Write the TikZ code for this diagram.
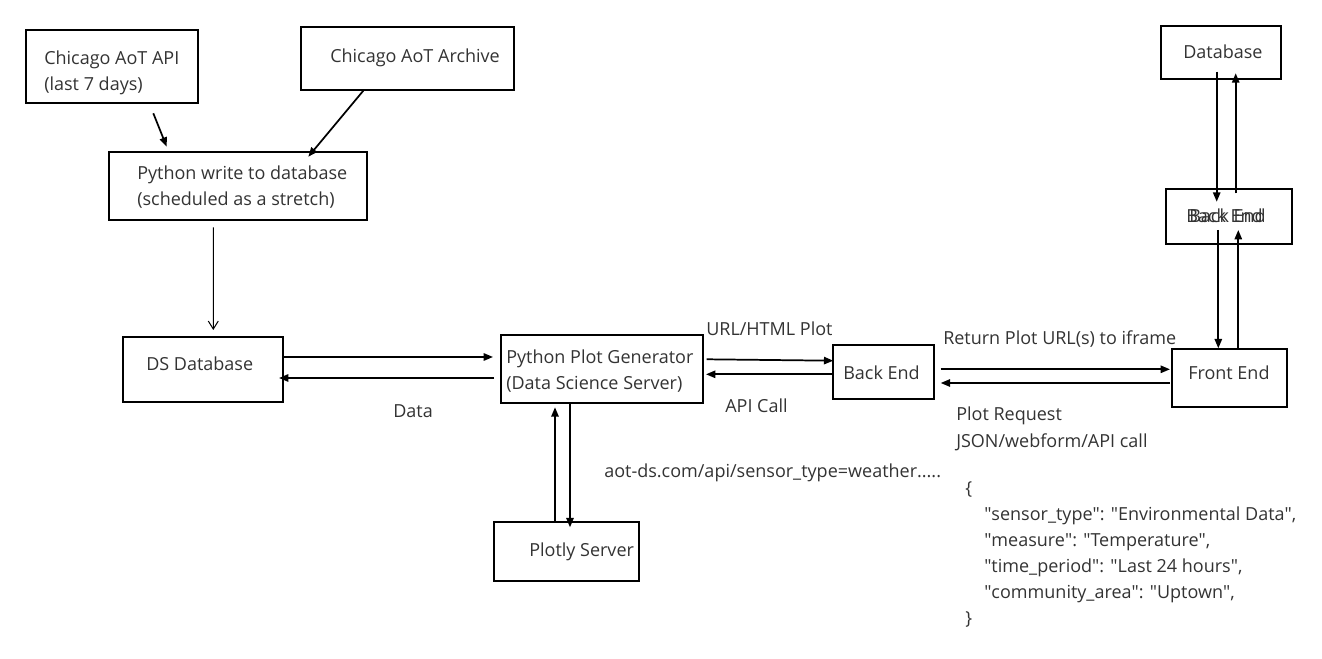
\documentclass[tikz,border=0pt]{standalone}
\usepackage{fontspec}
\setmainfont{Open Sans}
\usetikzlibrary{arrows.meta,calc}
\definecolor{txt}{HTML}{333333}
\newcommand\qq{\textquotedbl}
\begin{document}
\begin{tikzpicture}[x=0.75pt,y=-0.75pt,
  box/.style={draw=black,line width=0.8pt,inner sep=0pt,rectangle},
  lbl/.style={anchor=base west,inner sep=0pt,text=txt,font=\fontsize{13.5}{16}\selectfont},
  arr/.style={draw=black,line width=1.3pt,-{Triangle[length=7pt,width=5.5pt]}},
  thin/.style={draw=black,line width=0.75pt,-{Straight Barb[length=6pt,width=7.5pt]}}]
\useasboundingbox (0,0) rectangle (1322,659);
% boxes
\node[box,minimum width=172*0.75pt,minimum height=73*0.75pt] (api) at (112,66.5) {};
\node[box,minimum width=213*0.75pt,minimum height=63*0.75pt] (arch) at (407.5,58.5) {};
\node[box,minimum width=258*0.75pt,minimum height=68*0.75pt] (pyw) at (238,186) {};
\node[box,minimum width=160*0.75pt,minimum height=65*0.75pt] (dsdb) at (203,369.5) {};
\node[box,minimum width=202*0.75pt,minimum height=68*0.75pt] (ppg) at (602,369) {};
\node[box,minimum width=101*0.75pt,minimum height=54*0.75pt] (be1) at (883.5,372) {};
\node[box,minimum width=115*0.75pt,minimum height=58*0.75pt] (fe) at (1229.5,378) {};
\node[box,minimum width=120*0.75pt,minimum height=53*0.75pt] (db) at (1221,52.5) {};
\node[box,minimum width=126*0.75pt,minimum height=55*0.75pt] (be2) at (1229,216.5) {};
\node[box,minimum width=145*0.75pt,minimum height=59*0.75pt] (plotly) at (566.5,551.5) {};
% box texts
\node[lbl] (tapi1) at (44,65) {Chicago AoT API};
\node[lbl] (tapi2) at (44,91) {(last 7 days)};
\node[lbl] (tarch) at (330,63) {Chicago AoT Archive};
\node[lbl] (tpyw1) at (137,180) {Python write to database};
\node[lbl] (tpyw2) at (137,206) {(scheduled as a stretch)};
\node[lbl] (tds) at (146,371) {DS Database};
\node[lbl] (tppg1) at (506,364) {Python Plot Generator};
\node[lbl] (tppg2) at (506,390) {(Data Science Server)};
\node[lbl] (tbe1) at (843,380) {Back End};
\node[lbl] (tfe) at (1188,380) {Front End};
\node[lbl] (tdb) at (1183,59) {Database};
\node[lbl] (tbe2a) at (1186,223) {Back End};
\node[lbl] (tbe2b) at (1189,223) {Back End};
\node[lbl] (tplotly) at (529,556) {Plotly Server};
% connector labels
\node[lbl] (lurl) at (706,336) {URL/HTML Plot};
\node[lbl] (lapi) at (725,412) {API Call};
\node[lbl] (ldata) at (393,418) {Data};
\node[lbl] (lret) at (943,345) {Return Plot URL(s) to iframe};
\node[lbl] (lreq1) at (956,421) {Plot Request};
\node[lbl] (lreq2) at (956,447) {JSON/webform/API call};
\node[lbl] (laot) at (604,478) {aot-ds.com/api/sensor\_type=weather.....};
\node[lbl] (j0) at (965,494) {\{};
\node[lbl] (j1) at (984,520) {\qq sensor\_type\qq: \qq Environmental Data\qq,};
\node[lbl] (j2) at (984,546) {\qq measure\qq: \qq Temperature\qq,};
\node[lbl] (j3) at (984,572) {\qq time\_period\qq: \qq Last 24 hours\qq,};
\node[lbl] (j4) at (984,598) {\qq community\_area\qq: \qq Uptown\qq,};
\node[lbl] (j5) at (965,624) {\}};
% connectors
\draw[arr] ($(api)+(41.3,46.8)$) -- ($(pyw)+(-71.3,-39.3)$);
\draw[arr] ($(arch)+(-44.2,32.2)$) -- ($(pyw)+(70.3,-29.3)$);
\draw[thin] ($(pyw)+(-24.7,41.3)$) -- ($(dsdb)+(10.3,-39.5)$);
\draw[arr] ($(dsdb)+(80,-12.5)$) -- ($(ppg)+(-109,-12)$);
\draw[arr] ($(ppg)+(-108,9)$) -- ($(dsdb)+(76,8.5)$);
\draw[arr] ($(ppg)+(104.7,-9.7)$) -- ($(be1)+(-50.2,-11.3)$);
\draw[arr] ($(be1)+(-50.5,2.3)$) -- ($(ppg)+(104,5.3)$);
\draw[arr] ($(be1)+(57.2,-2.7)$) -- ($(fe)+(-59.5,-8.7)$);
\draw[arr] ($(fe)+(-59.5,5)$) -- ($(be1)+(57.2,11)$);
\draw[arr] ($(plotly)+(-11.5,-29.2)$) -- ($(ppg)+(-47,38.3)$);
\draw[arr] ($(ppg)+(-32,34.3)$) -- ($(plotly)+(3.5,-24.2)$);
\draw[arr] ($(db)+(-4.3,19.2)$) -- ($(be2)+(-12.3,-14.8)$);
\draw[arr] ($(be2)+(6.7,-23.2)$) -- ($(db)+(14.7,20.8)$);
\draw[arr] ($(be2)+(-10.7,13.5)$) -- ($(fe)+(-11.2,-29.7)$);
\draw[arr] ($(fe)+(8.8,-28)$) -- ($(be2)+(9.3,13.5)$);
\end{tikzpicture}
\end{document}
